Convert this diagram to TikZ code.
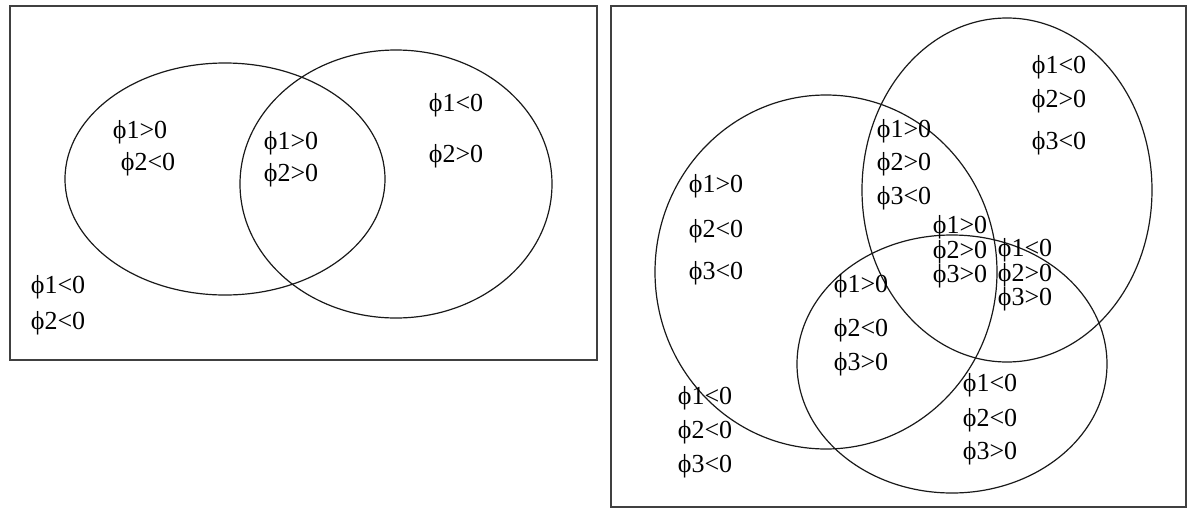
\documentclass[tikz,border=0pt]{standalone}
\usepackage{fontspec}
\setmainfont{Liberation Serif}
\begin{document}
\begin{tikzpicture}[x=1pt,y=-1pt,
  frame/.style={draw=black!75,line width=1.5pt},
  venn/.style={draw=black!90,line width=1.2pt},
  lbl/.style={inner sep=0pt,font=\fontsize{26}{29}\selectfont},
  stack/.style={inner sep=0pt,align=left,font=\fontsize{26}{22}\selectfont}]
\useasboundingbox (0,0) rectangle (1192,509);
% left panel
\draw[frame] (10,6) rectangle (597,360);
\draw[venn] (225,179) ellipse [x radius=160,y radius=116];
\draw[venn] (396,184) ellipse [x radius=156,y radius=134];
\node[lbl] (la1) at (140,132) {ϕ1>0};
\node[lbl] (la2) at (148,164) {ϕ2<0};
\node[lbl] (lb1) at (291,143) {ϕ1>0};
\node[lbl] (lb2) at (291,175) {ϕ2>0};
\node[lbl] (lc1) at (456,105) {ϕ1<0};
\node[lbl] (lc2) at (456,156) {ϕ2>0};
\node[lbl] (ld1) at (58,287) {ϕ1<0};
\node[lbl] (ld2) at (58,323) {ϕ2<0};
% right panel
\draw[frame] (611,6) rectangle (1186,507);
\draw[venn] (826,272) ellipse [x radius=171,y radius=177];
\draw[venn] (1007,190) ellipse [x radius=145,y radius=172];
\draw[venn] (952,364) ellipse [x radius=155,y radius=129];
\node[lbl] (rb1) at (1059,67) {ϕ1<0};
\node[lbl] (rb2) at (1059,101) {ϕ2>0};
\node[lbl] (rb3) at (1059,143) {ϕ3<0};
\node[lbl] (rab1) at (904,131) {ϕ1>0};
\node[lbl] (rab2) at (904,164) {ϕ2>0};
\node[lbl] (rab3) at (904,198) {ϕ3<0};
\node[lbl] (ra1) at (716,186) {ϕ1>0};
\node[lbl] (ra2) at (716,231) {ϕ2<0};
\node[lbl] (ra3) at (716,273) {ϕ3<0};
\node[stack] (rabc) at (960,252) {ϕ1>0\\ϕ2>0\\ϕ3>0};
\node[stack] (rbc) at (1025,275) {ϕ1<0\\ϕ2>0\\ϕ3>0};
\node[lbl] (rac1) at (861,286) {ϕ1>0};
\node[lbl] (rac2) at (861,330) {ϕ2<0};
\node[lbl] (rac3) at (861,364) {ϕ3>0};
\node[lbl] (rc1) at (990,385) {ϕ1<0};
\node[lbl] (rc2) at (990,420) {ϕ2<0};
\node[lbl] (rc3) at (990,453) {ϕ3>0};
\node[lbl] (ro1) at (705,398) {ϕ1<0};
\node[lbl] (ro2) at (705,432) {ϕ2<0};
\node[lbl] (ro3) at (705,466) {ϕ3<0};
\end{tikzpicture}
\end{document}
